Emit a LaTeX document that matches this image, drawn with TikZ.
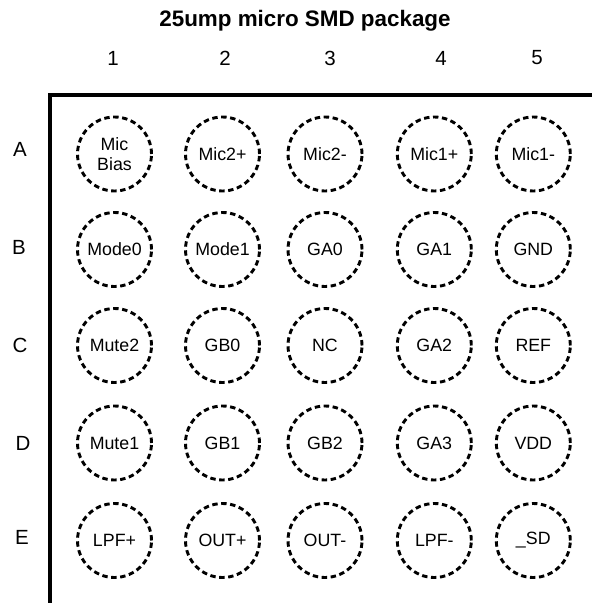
\documentclass[tikz,border=0pt]{standalone}
\usepackage{fontspec}
\setmainfont{Liberation Sans}
\begin{document}
\begin{tikzpicture}[x=1pt,y=-1pt,
  pin/.style={circle,draw=black,line width=2.9pt,dash pattern=on 5.4pt off 3.6pt,
    minimum size=74pt,inner sep=0pt,align=center,font=\fontsize{17.8}{20.5}\selectfont},
  colnum/.style={font=\fontsize{20.5}{24}\selectfont},
  rowlab/.style={font=\fontsize{20.5}{24}\selectfont},
  frame/.style={line width=4pt}]
\useasboundingbox (0,0) rectangle (592,603);
\node[font=\fontsize{22.4}{27}\selectfont\bfseries] (title) at (305,21) {25ump micro SMD package};
% column numbers
\node[colnum] (c1) at (113,58) {1};
\node[colnum] (c2) at (225,58) {2};
\node[colnum] (c3) at (330,58) {3};
\node[colnum] (c4) at (441,58) {4};
\node[colnum] (c5) at (537,58) {5};
% row labels
\node[rowlab] (rA) at (20,149) {A};
\node[rowlab] (rB) at (19,247) {B};
\node[rowlab] (rC) at (20,345) {C};
\node[rowlab] (rD) at (23,443) {D};
\node[rowlab] (rE) at (22,537) {E};
% frame
\coordinate (fTR) at (592,95);
\coordinate (fTL) at (50,95);
\coordinate (fBL) at (50,603);
\draw[frame] (fTR) -- (fTL) -- (fBL);
% pins
\node[pin] (A1) at (114.5,154) {Mic\\Bias};
\node[pin] (A2) at (222.5,154) {Mic2+};
\node[pin] (A3) at (325,154) {Mic2-};
\node[pin] (A4) at (434.3,154) {Mic1+};
\node[pin] (A5) at (533.3,154) {Mic1-};
\node[pin] (B1) at (114.5,249.5) {Mode0};
\node[pin] (B2) at (222.5,249.5) {Mode1};
\node[pin] (B3) at (325,249.5) {GA0};
\node[pin] (B4) at (434.3,249.5) {GA1};
\node[pin] (B5) at (533.3,249.5) {GND};
\node[pin] (C1) at (114.5,345.5) {Mute2};
\node[pin] (C2) at (222.5,345.5) {GB0};
\node[pin] (C3) at (325,345.5) {NC};
\node[pin] (C4) at (434.3,345.5) {GA2};
\node[pin] (C5) at (533.3,345.5) {REF};
\node[pin] (D1) at (114.5,443) {Mute1};
\node[pin] (D2) at (222.5,443) {GB1};
\node[pin] (D3) at (325,443) {GB2};
\node[pin] (D4) at (434.3,443) {GA3};
\node[pin] (D5) at (533.3,443) {VDD};
\node[pin] (E1) at (114.5,540.5) {LPF+};
\node[pin] (E2) at (222.5,540.5) {OUT+};
\node[pin] (E3) at (325,540.5) {OUT-};
\node[pin] (E4) at (434.3,540.5) {LPF-};
\node[pin] (E5) at (533.3,540.5) {\_SD};
\end{tikzpicture}
\end{document}
